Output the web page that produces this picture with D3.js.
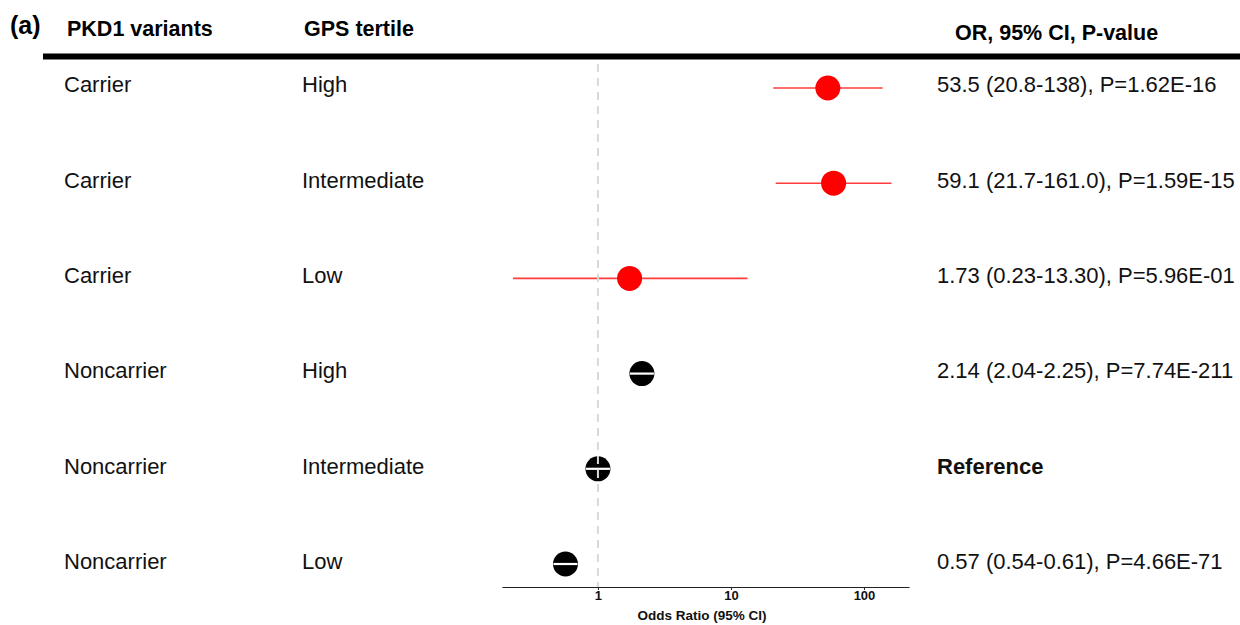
<!DOCTYPE html>
<html>
<head>
<meta charset="utf-8">
<script src="https://cdn.jsdelivr.net/npm/d3@7"></script>
<style>
  html, body { margin: 0; padding: 0; background: #fff; }
  svg { display: block; font-family: "Liberation Sans", Arial, Helvetica, sans-serif; }
</style>
</head>
<body>
<svg id="chart" width="1240" height="625"></svg>
<script>
// Forest plot: odds ratios by PKD1 carrier status and GPS tertile
const variants = ["Carrier", "Carrier", "Carrier", "Noncarrier", "Noncarrier", "Noncarrier"];
const tertiles = ["High", "Intermediate", "Low", "High", "Intermediate", "Low"];
const oddsRatios = [53.5, 59.1, 1.73, 2.14, 1, 0.57];
const ciLower = [20.8, 21.7, 0.23, 2.04, 1, 0.54];
const ciUpper = [138, 161.0, 13.30, 2.25, 1, 0.61];
const carrierFlags = [true, true, true, false, false, false];
const summaryLabels = [
  "53.5 (20.8-138), P=1.62E-16",
  "59.1 (21.7-161.0), P=1.59E-15",
  "1.73 (0.23-13.30), P=5.96E-01",
  "2.14 (2.04-2.25), P=7.74E-211",
  "Reference",
  "0.57 (0.54-0.61), P=4.66E-71"
];
const headers = ["PKD1 variants", "GPS tertile", "OR, 95% CI, P-value"];
const tickValues = [1, 10, 100];
const axisTitle = "Odds Ratio (95% CI)";
const panelTag = "(a)";

const svg = d3.select("#chart");
const rows = d3.range(variants.length);

const x = d3.scaleLog().domain([0.19, 218]).range([502, 909]);
const yPoint = d3.scalePoint().domain(rows).range([88, 564]);
const yText = d3.scalePoint().domain(rows).range([84.5, 561.5]);
const axisY = 587;
const bodySize = 22;

// panel tag and column headers
svg.append("text").attr("x", 10).attr("y", 34)
  .attr("font-size", 25).attr("font-weight", "bold").text(panelTag);
svg.append("text").attr("x", 67).attr("y", 36)
  .attr("font-size", 21.5).attr("font-weight", "bold").text(headers[0]);
svg.append("text").attr("x", 304).attr("y", 36)
  .attr("font-size", 21.5).attr("font-weight", "bold").text(headers[1]);
svg.append("text").attr("x", 955).attr("y", 40)
  .attr("font-size", 21.5).attr("font-weight", "bold").text(headers[2]);

// heavy rule under the headers
svg.append("line").attr("x1", 43).attr("x2", 1240).attr("y1", 56.5).attr("y2", 56.5)
  .attr("stroke", "#000").attr("stroke-width", 6);

// row labels
const labelRows = svg.append("g").selectAll("g").data(rows).join("g");
labelRows.append("text").attr("x", 64).attr("y", d => yText(d)).attr("dy", "0.35em")
  .attr("font-size", bodySize).attr("fill", "#111").text(d => variants[d]);
labelRows.append("text").attr("x", 302).attr("y", d => yText(d)).attr("dy", "0.35em")
  .attr("font-size", bodySize).attr("fill", "#111").text(d => tertiles[d]);
labelRows.append("text").attr("x", 937).attr("y", d => yText(d)).attr("dy", "0.35em")
  .attr("font-size", bodySize).attr("fill", "#111")
  .attr("font-weight", d => summaryLabels[d] === "Reference" ? "bold" : "normal")
  .text(d => summaryLabels[d]);

// confidence intervals and point estimates
const marks = svg.append("g");
marks.selectAll("line.ci").data(rows.filter(d => carrierFlags[d])).join("line")
  .attr("class", "ci")
  .attr("x1", d => x(ciLower[d])).attr("x2", d => x(ciUpper[d]))
  .attr("y1", d => yPoint(d)).attr("y2", d => yPoint(d))
  .attr("stroke", "#ff3b3b").attr("stroke-width", 1.6);

marks.selectAll("circle").data(rows).join("circle")
  .attr("cx", d => x(oddsRatios[d])).attr("cy", d => yPoint(d)).attr("r", 12.5)
  .attr("fill", d => carrierFlags[d] ? "#ff0000" : "#000");

// white bar across the noncarrier markers
marks.selectAll("line.bar").data(rows.filter(d => !carrierFlags[d])).join("line")
  .attr("class", "bar")
  .attr("x1", d => x(oddsRatios[d]) - 12).attr("x2", d => x(oddsRatios[d]) + 12)
  .attr("y1", d => yPoint(d)).attr("y2", d => yPoint(d))
  .attr("stroke", "#fff").attr("stroke-width", 2.2);

// null line at OR = 1
svg.append("line").attr("x1", x(1)).attr("x2", x(1)).attr("y1", 64).attr("y2", axisY)
  .attr("stroke", "#d6dada").attr("stroke-width", 2).attr("stroke-dasharray", "8,6");

// x axis
const axis = svg.append("g").attr("transform", `translate(0,${axisY})`)
  .call(d3.axisBottom(x).tickValues(tickValues).tickFormat(d3.format("d")).tickSize(3).tickSizeOuter(0));
axis.select(".domain").attr("stroke", "#222").attr("stroke-width", 1.2);
axis.selectAll(".tick line").attr("stroke", "#222");
axis.selectAll(".tick text").attr("font-size", 13).attr("font-weight", "bold")
  .attr("font-family", "Liberation Sans, Arial, sans-serif").attr("fill", "#111").attr("dy", "0.55em");

svg.append("text").attr("x", 702).attr("y", 620).attr("text-anchor", "middle")
  .attr("font-size", 13.5).attr("font-weight", "bold").attr("fill", "#111").text(axisTitle);
</script>
</body>
</html>
